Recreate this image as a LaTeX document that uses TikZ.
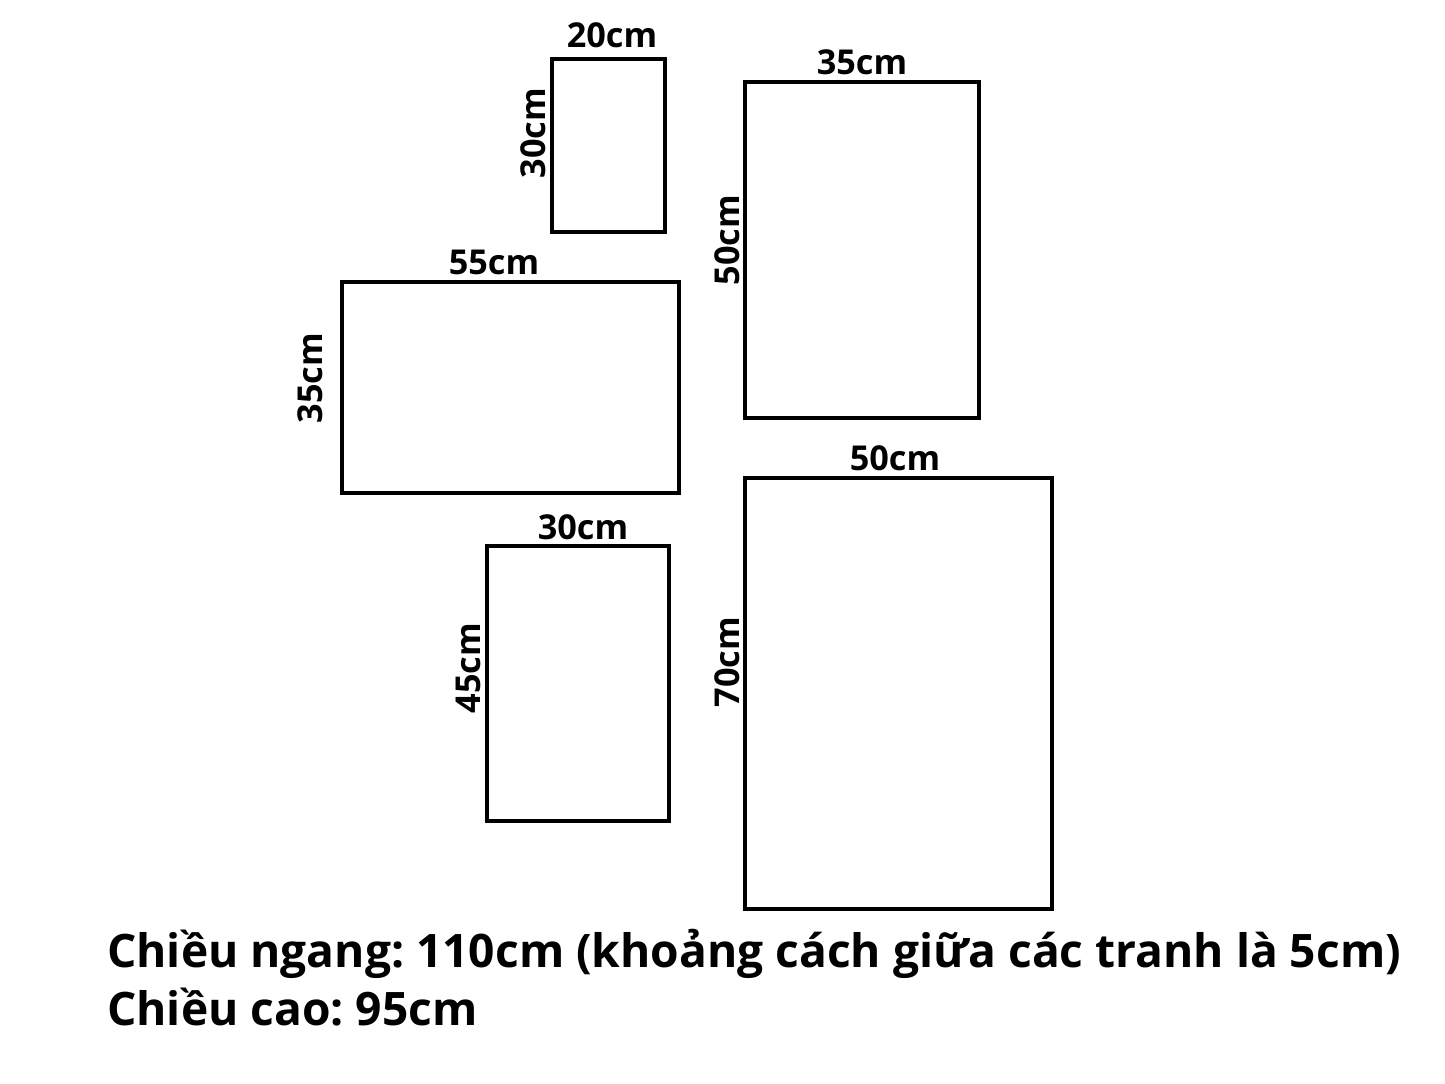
\documentclass[tikz,border=0pt]{standalone}
\usepackage{fontspec}
\setmainfont{Open Sans}
\tikzset{
  frame/.style={draw=black, line width=3.3pt},
  lbl/.style={font=\bfseries\fontsize{25.7}{31}\selectfont, inner sep=0pt, anchor=base},
  side/.style={lbl, rotate=90},
  note/.style={anchor=base west, inner sep=0pt, font=\bfseries\fontsize{34.6}{42}\selectfont}
}
\frenchspacing
\begin{document}
\begin{tikzpicture}[x=0.75pt,y=-0.75pt]
        \useasboundingbox (0,0) rectangle (1445,1084);

        % frames
        \draw[frame] (552,59) rectangle (665,232);
        \draw[frame] (745,82) rectangle (979,418);
        \draw[frame] (342,282) rectangle (679,493);
        \draw[frame] (487,546) rectangle (669,821);
        \draw[frame] (745,478) rectangle (1052,909);

        % widths
        \node[lbl] (w1) at (612,48) {20cm};
        \node[lbl] (w2) at (862,75) {35cm};
        \node[lbl] (w3) at (494,275) {55cm};
        \node[lbl] (w4) at (583,539) {30cm};
        \node[lbl] (w5) at (895,470) {50cm};

        % heights
        \node[side] (h1) at (545,133) {30cm};
        \node[side] (h2) at (739,240) {50cm};
        \node[side] (h3) at (322,378) {35cm};
        \node[side] (h4) at (480,668) {45cm};
        \node[side] (h5) at (739,662) {70cm};

        \node[note] (total) at (107,967) {Chiều ngang: 110cm (khoảng cách giữa các tranh là 5cm)};
        \node[note] (tall) at (107,1025) {Chiều cao: 95cm};
      \end{tikzpicture}
\end{document}
